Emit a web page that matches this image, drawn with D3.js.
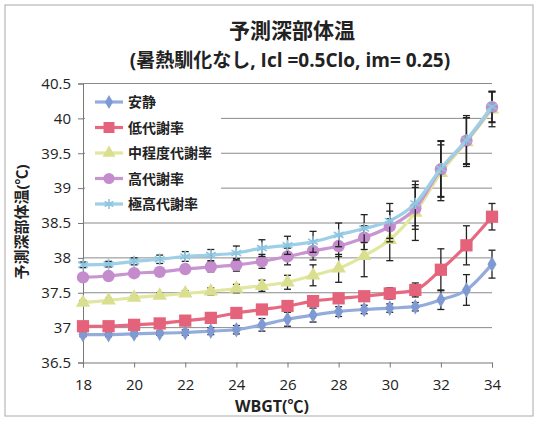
<!DOCTYPE html>
<html><head><meta charset="utf-8">
<script src="https://cdn.jsdelivr.net/npm/d3@7"></script>
<style>body{margin:0;background:#fff}svg{display:block}</style>
</head><body><svg id="c" width="540" height="423"></svg>
<script>
const wbgt = [18,19,20,21,22,23,24,25,26,27,28,29,30,31,32,33,34];
const seriesNames = ["安静","低代謝率","中程度代謝率","高代謝率","極高代謝率"];
const rest   = [36.90,36.90,36.91,36.92,36.93,36.95,36.97,37.04,37.12,37.18,37.23,37.26,37.28,37.30,37.40,37.54,37.91];
const low    = [37.02,37.02,37.04,37.06,37.10,37.14,37.21,37.26,37.31,37.38,37.42,37.45,37.49,37.54,37.83,38.18,38.59];
const mid    = [37.36,37.39,37.43,37.46,37.49,37.52,37.56,37.60,37.65,37.75,37.85,38.03,38.26,38.65,39.22,39.66,40.13];
const high   = [37.72,37.74,37.78,37.80,37.84,37.87,37.90,37.95,38.02,38.10,38.17,38.29,38.45,38.71,39.27,39.68,40.16];
const vhigh  = [37.90,37.91,37.95,37.98,38.02,38.04,38.07,38.14,38.18,38.23,38.33,38.42,38.53,38.78,39.28,39.69,40.17];
const errRest  = [0.03,0.03,0.03,0.03,0.04,0.05,0.06,0.09,0.10,0.10,0.07,0.06,0.06,0.06,0.14,0.22,0.20];
const errLow   = [0.02,0.02,0.02,0.03,0.03,0.04,0.04,0.05,0.05,0.06,0.05,0.06,0.08,0.10,0.30,0.28,0.19];
const errMid   = [0.03,0.03,0.03,0.04,0.04,0.05,0.06,0.08,0.10,0.15,0.20,0.30,0.30,0.40,0.40,0.35,0.25];
const errHigh  = [0.03,0.03,0.04,0.05,0.06,0.07,0.09,0.10,0.12,0.13,0.15,0.17,0.22,0.30,0.40,0.33,0.22];
const errVhigh = [0.04,0.04,0.05,0.06,0.07,0.08,0.10,0.12,0.13,0.15,0.17,0.20,0.25,0.32,0.40,0.35,0.22];
const xTicks = [18,20,22,24,26,28,30,32,34];
const yTicks = [36.5,37,37.5,38,38.5,39,39.5,40,40.5];
const titleLine1 = "予測深部体温";
const titleLine2 = "(暑熱馴化なし, Icl =0.5Clo, im= 0.25)";
const yLabel = "予測深部体温(℃)";
const xLabel = "WBGT(℃)";

const svg = d3.select("#c");
const font = "'Open Sans','Noto Sans CJK JP',sans-serif";
const x = d3.scaleLinear().domain([18,34]).range([83,492]);
const y = d3.scaleLinear().domain([36.5,40.5]).range([362.5,83.5]);

svg.append("rect").attr("x",5).attr("y",5).attr("width",528).attr("height",411)
  .attr("fill","#fff").attr("stroke","#aaa").attr("stroke-width",1);

// gridlines
svg.append("g").selectAll("line").data(yTicks.slice(1)).join("line")
  .attr("x1",x(18)).attr("x2",x(34)).attr("y1",d=>y(d)).attr("y2",d=>y(d))
  .attr("stroke","#8a8a8a").attr("stroke-width",1);

// axes
const yAxis = svg.append("g").attr("transform",`translate(${x(18)},0)`)
  .call(d3.axisLeft(y).tickValues(yTicks).tickSize(5).tickPadding(7).tickFormat(d3.format("")));
const xAxis = svg.append("g").attr("transform",`translate(0,${y(36.5)})`)
  .call(d3.axisBottom(x).tickValues(xTicks).tickSize(5).tickPadding(12));
[yAxis,xAxis].forEach(g=>{
  g.select(".domain").attr("stroke","#777");
  g.selectAll(".tick line").attr("stroke","#777");
  g.selectAll("text").attr("font-family",font).attr("font-size",15).attr("fill","#222");
});

const series = [
  {name:seriesNames[0], v:rest,  e:errRest,  line:"#93acdc", fill:"#7f99d2", sym:d3.symbolDiamond, size:70},
  {name:seriesNames[1], v:low,   e:errLow,   line:"#e8697f", fill:"#e4627a", sym:d3.symbolSquare, size:150},
  {name:seriesNames[2], v:mid,   e:errMid,   line:"#e1e79f", fill:"#d9df8e", sym:d3.symbolTriangle, size:90},
  {name:seriesNames[3], v:high,  e:errHigh,  line:"#c995d0", fill:"#c48ccc", sym:d3.symbolCircle, size:120},
  {name:seriesNames[4], v:vhigh, e:errVhigh, line:"#9dcfe6", fill:"#8cc6e0", sym:d3.symbolAsterisk, size:90, stroke:true}
];

const line = d3.line().x((d,i)=>x(wbgt[i])).y(d=>y(d)).curve(d3.curveMonotoneX);
series.forEach(s=>{
  const g = svg.append("g");
  g.append("path").attr("d",line(s.v)).attr("fill","none").attr("stroke",s.line).attr("stroke-width",3.2);
  const eb = g.append("g").selectAll("g").data(s.v).join("g");
  eb.append("line").attr("x1",(d,i)=>x(wbgt[i])).attr("x2",(d,i)=>x(wbgt[i]))
    .attr("y1",(d,i)=>y(d+s.e[i])).attr("y2",(d,i)=>y(d-s.e[i])).attr("stroke","#222").attr("stroke-width",1.3);
  [1,-1].forEach(sg=>{
    eb.append("line").attr("x1",(d,i)=>x(wbgt[i])-3.5).attr("x2",(d,i)=>x(wbgt[i])+3.5)
      .attr("y1",(d,i)=>y(d+sg*s.e[i])).attr("y2",(d,i)=>y(d+sg*s.e[i])).attr("stroke","#222").attr("stroke-width",1.3);
  });
  g.append("g").selectAll("path").data(s.v).join("path")
    .attr("transform",(d,i)=>`translate(${x(wbgt[i])},${y(d)})`)
    .attr("d",d3.symbol().type(s.sym).size(s.size))
    .attr("fill",s.stroke?"none":s.fill).attr("stroke",s.fill).attr("stroke-width",s.stroke?1.6:0);
});

// legend
const lg = svg.append("g");
lg.append("rect").attr("x",85).attr("y",88).attr("width",136).attr("height",128).attr("fill","#fff");
series.forEach((s,i)=>{
  const yy = 102 + i*25.5;
  lg.append("line").attr("x1",95).attr("x2",123).attr("y1",yy).attr("y2",yy).attr("stroke",s.line).attr("stroke-width",3.2);
  lg.append("path").attr("transform",`translate(109,${yy})`).attr("d",d3.symbol().type(s.sym).size(s.size*0.8))
    .attr("fill",s.stroke?"none":s.fill).attr("stroke",s.fill).attr("stroke-width",s.stroke?1.6:0);
  lg.append("text").attr("x",128).attr("y",yy+5).text(s.name)
    .attr("font-family",font).attr("font-size",14).attr("font-weight","bold").attr("fill","#222");
});

// titles
svg.append("text").attr("x",292).attr("y",38).attr("text-anchor","middle").text(titleLine1)
  .attr("font-family",font).attr("font-size",21).attr("font-weight","bold").attr("fill","#222");
svg.append("text").attr("x",290).attr("y",67).attr("text-anchor","middle").text(titleLine2)
  .attr("font-family",font).attr("font-size",19).attr("font-weight","bold").attr("fill","#222");
svg.append("text").attr("transform","translate(27,222) rotate(-90)").attr("text-anchor","middle").text(yLabel)
  .attr("font-family",font).attr("font-size",15).attr("font-weight","bold").attr("fill","#222");
svg.append("text").attr("x",272).attr("y",412).attr("text-anchor","middle").text(xLabel)
  .attr("font-family",font).attr("font-size",16).attr("font-weight","bold").attr("fill","#222");
</script></body></html>
